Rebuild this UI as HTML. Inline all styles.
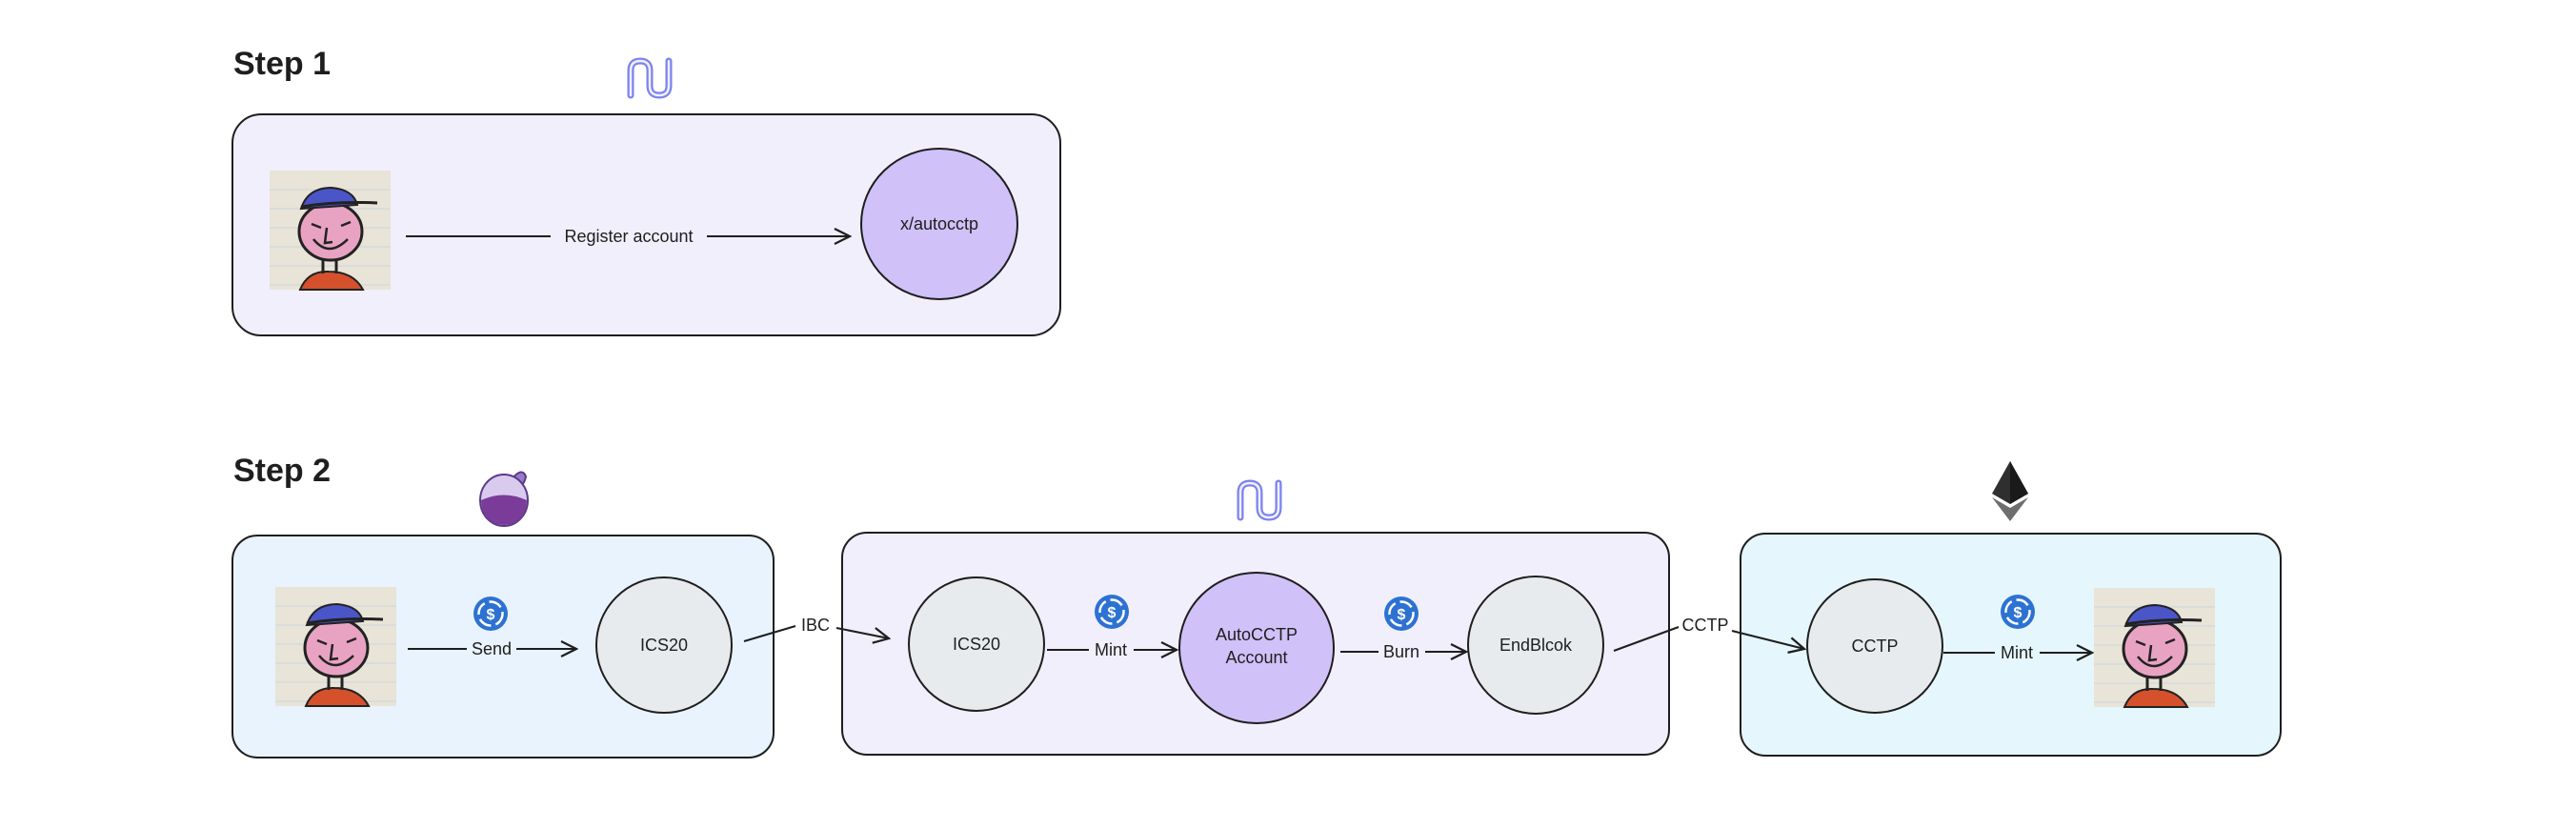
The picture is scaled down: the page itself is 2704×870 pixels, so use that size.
<!DOCTYPE html>
<html><head><meta charset="utf-8"><style>
html,body{margin:0;padding:0;background:#fff;}
svg{display:block}
text{font-family:"Liberation Sans",sans-serif;fill:#1e1e1e}
</style></head><body>
<svg width="2704" height="870" viewBox="0 0 2704 870" xmlns="http://www.w3.org/2000/svg">
<defs>
<g id="person">
<rect x="0" y="0" width="127" height="125" fill="#e9e4d8"/>
<g stroke="#c9d6dc" stroke-width="1"><line x1="0" y1="20" x2="127" y2="20"/><line x1="0" y1="40" x2="127" y2="40"/><line x1="0" y1="60" x2="127" y2="60"/><line x1="0" y1="80" x2="127" y2="80"/><line x1="0" y1="100" x2="127" y2="100"/><line x1="0" y1="120" x2="127" y2="120"/></g>
<path d="M32 125 Q40 105 62 106 Q88 106 98 125 Z" fill="#d4512c" stroke="#222" stroke-width="2"/>
<path d="M56 90 L56 108 M70 90 L70 108" stroke="#222" stroke-width="3"/>
<ellipse cx="64" cy="64" rx="33" ry="30" fill="#e9a3c2" stroke="#222" stroke-width="3"/>
<path d="M33 40 Q40 18 65 18 Q88 20 92 36 Z" fill="#4a55c8" stroke="#222" stroke-width="2"/>
<path d="M33 38 Q70 32 113 34" stroke="#222" stroke-width="3" fill="none"/>
<path d="M44 56 L54 60 M75 58 L85 54 M60 60 L58 76 L66 75 M46 72 Q62 92 82 72" stroke="#222" stroke-width="2.5" fill="none"/>
</g>
<g id="usdc">
<circle cx="0" cy="0" r="18" fill="#2d72d2"/>
<circle cx="0" cy="0" r="12.5" fill="none" stroke="#fff" stroke-width="2.5" stroke-dasharray="14 5"/>
<text x="0" y="6" text-anchor="middle" font-size="16" font-weight="bold" style="fill:#fff">$</text>
</g>
<g id="noble">
<path d="M6 40 L6 14 Q6 4 16 4 Q26 4 26 14 L26 30 Q26 40 36 40 Q46 40 46 30 L46 4" fill="none" stroke="#7b82ee" stroke-width="7" stroke-linecap="round"/>
<path d="M6 40 L6 14 Q6 4 16 4 Q26 4 26 14 L26 30 Q26 40 36 40 Q46 40 46 30 L46 4" fill="none" stroke="#eef0ff" stroke-width="2.5" stroke-linecap="round"/>
</g>
<marker id="ah" markerWidth="20" markerHeight="20" refX="18" refY="10" orient="auto" markerUnits="userSpaceOnUse"><path d="M2 2 L18 10 L2 18" fill="none" stroke="#1e1e1e" stroke-width="2.2"/></marker>
</defs>

<!-- Step 1 -->
<text x="245" y="78" font-size="34" font-weight="bold">Step 1</text>
<use href="#noble" x="656" y="60"/>
<rect x="244" y="120" width="869" height="232" rx="30" fill="#f1effc" stroke="#1e1e1e" stroke-width="2"/>
<use href="#person" x="283" y="179"/>
<line x1="426" y1="248" x2="578" y2="248" stroke="#1e1e1e" stroke-width="2"/>
<line x1="742" y1="248" x2="892" y2="248" stroke="#1e1e1e" stroke-width="2" marker-end="url(#ah)"/>
<text x="660" y="254" font-size="18" text-anchor="middle">Register account</text>
<ellipse cx="986" cy="235" rx="82" ry="79" fill="#d0c1f8" stroke="#1e1e1e" stroke-width="2"/>
<text x="986" y="241" font-size="18" text-anchor="middle">x/autocctp</text>

<!-- Step 2 -->
<text x="245" y="505" font-size="34" font-weight="bold">Step 2</text>

<g>
<path d="M538 502 Q548 490 552 500 Q550 510 544 510 Z" fill="#9a79c9" stroke="#5b3a8a" stroke-width="2"/>
<ellipse cx="529" cy="525" rx="25" ry="27" fill="#d9cbee" stroke="#5b3a8a" stroke-width="2"/>
<path d="M505 525 Q529 514 553 525 Q552 550 529 551 Q506 550 505 525 Z" fill="#7b3c99"/>
</g>

<rect x="244" y="562" width="568" height="233" rx="26" fill="#e8f3fd" stroke="#1e1e1e" stroke-width="2"/>
<use href="#person" x="289" y="616"/>
<use href="#usdc" x="515" y="644"/>
<line x1="428" y1="681" x2="490" y2="681" stroke="#1e1e1e" stroke-width="2"/>
<line x1="542" y1="681" x2="605" y2="681" stroke="#1e1e1e" stroke-width="2" marker-end="url(#ah)"/>
<text x="516" y="687" font-size="18" text-anchor="middle">Send</text>
<ellipse cx="697" cy="677" rx="71" ry="71" fill="#e8ebee" stroke="#1e1e1e" stroke-width="2"/>
<text x="697" y="683" font-size="18" text-anchor="middle">ICS20</text>

<use href="#noble" x="1296" y="503"/>
<rect x="884" y="559" width="868" height="233" rx="26" fill="#f1effc" stroke="#1e1e1e" stroke-width="2"/>
<ellipse cx="1025" cy="676" rx="71" ry="70" fill="#e8ebee" stroke="#1e1e1e" stroke-width="2"/>
<text x="1025" y="682" font-size="18" text-anchor="middle">ICS20</text>
<use href="#usdc" x="1167" y="642"/>
<line x1="1099" y1="682" x2="1143" y2="682" stroke="#1e1e1e" stroke-width="2"/>
<line x1="1190" y1="682" x2="1235" y2="682" stroke="#1e1e1e" stroke-width="2" marker-end="url(#ah)"/>
<text x="1166" y="688" font-size="18" text-anchor="middle">Mint</text>
<ellipse cx="1319" cy="680" rx="81" ry="79" fill="#d0c1f8" stroke="#1e1e1e" stroke-width="2"/>
<text x="1319" y="672" font-size="18" text-anchor="middle">AutoCCTP</text>
<text x="1319" y="696" font-size="18" text-anchor="middle">Account</text>
<use href="#usdc" x="1471" y="644"/>
<line x1="1407" y1="684" x2="1447" y2="684" stroke="#1e1e1e" stroke-width="2"/>
<line x1="1496" y1="684" x2="1539" y2="684" stroke="#1e1e1e" stroke-width="2" marker-end="url(#ah)"/>
<text x="1471" y="690" font-size="18" text-anchor="middle">Burn</text>
<ellipse cx="1612" cy="677" rx="71" ry="72" fill="#e8ebee" stroke="#1e1e1e" stroke-width="2"/>
<text x="1612" y="683" font-size="18" text-anchor="middle">EndBlcok</text>

<g>
<polygon points="2110,484 2091,518 2110,529 2129,518" fill="#2f2f2f"/>
<polygon points="2110,484 2110,529 2129,518" fill="#1a1a1a"/>
<polygon points="2091,522 2110,547 2129,522 2110,533" fill="#6e6e6e"/>
</g>
<rect x="1827" y="560" width="567" height="233" rx="26" fill="#e5f7fc" stroke="#1e1e1e" stroke-width="2"/>
<ellipse cx="1968" cy="678" rx="71" ry="70" fill="#e8ebee" stroke="#1e1e1e" stroke-width="2"/>
<text x="1968" y="684" font-size="18" text-anchor="middle">CCTP</text>
<use href="#usdc" x="2118" y="642"/>
<line x1="2040" y1="685" x2="2094" y2="685" stroke="#1e1e1e" stroke-width="2"/>
<line x1="2141" y1="685" x2="2196" y2="685" stroke="#1e1e1e" stroke-width="2" marker-end="url(#ah)"/>
<text x="2117" y="691" font-size="18" text-anchor="middle">Mint</text>
<use href="#person" x="2198" y="617"/>

<!-- connectors drawn on top -->
<polyline points="781,673 835,657" fill="none" stroke="#1e1e1e" stroke-width="2"/>
<polyline points="878,659 933,670" fill="none" stroke="#1e1e1e" stroke-width="2" marker-end="url(#ah)"/>
<text x="856" y="662" font-size="18" text-anchor="middle">IBC</text>
<polyline points="1694,683 1762,658" fill="none" stroke="#1e1e1e" stroke-width="2"/>
<polyline points="1818,662 1894,681" fill="none" stroke="#1e1e1e" stroke-width="2" marker-end="url(#ah)"/>
<text x="1790" y="662" font-size="18" text-anchor="middle">CCTP</text>
</svg>
</body></html>
